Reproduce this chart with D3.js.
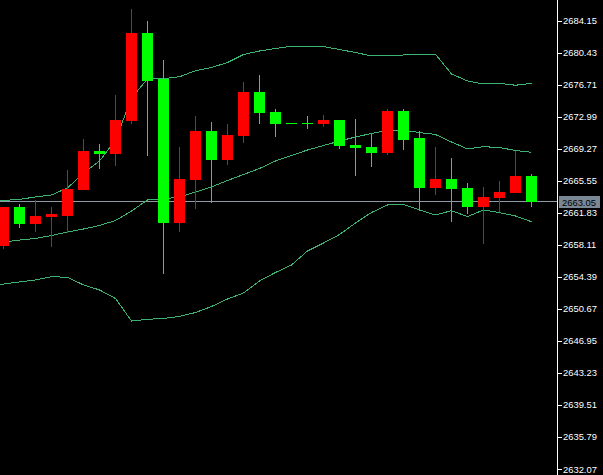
<!DOCTYPE html>
<html>
<head>
<meta charset="utf-8">
<script src="https://cdn.jsdelivr.net/npm/d3@7"></script>
<style>
  html, body { margin: 0; padding: 0; background: #000; }
  svg { display: block; }
</style>
</head>
<body>
<svg id="chart"></svg>
<script>
// bars, oldest first
const opens  = [2657.98, 2662.51, 2660.57, 2661.35, 2661.50, 2664.48, 2669.01, 2668.70, 2672.53, 2682.72,
                2677.34, 2660.68, 2665.68, 2671.34, 2667.97, 2670.79, 2675.86, 2673.54, 2672.23, 2672.23,
                2672.18, 2672.61, 2669.71, 2669.48, 2668.78, 2673.66, 2670.52, 2664.75, 2665.76, 2664.72,
                2662.54, 2663.59, 2664.17, 2666.11];
const highs  = [2662.51, 2662.86, 2663.32, 2662.51, 2666.80, 2670.41, 2669.83, 2675.52, 2685.51, 2684.12,
                2679.59, 2669.48, 2673.08, 2672.38, 2672.15, 2677.03, 2677.84, 2673.89, 2672.23, 2673.08,
                2673.19, 2672.61, 2672.73, 2670.99, 2673.89, 2673.89, 2671.34, 2669.51, 2668.23, 2665.30,
                2664.83, 2665.53, 2669.05, 2666.34];
const lows   = [2657.63, 2660.10, 2659.64, 2657.90, 2659.52, 2664.48, 2666.92, 2667.27, 2672.18, 2668.47,
                2654.76, 2659.64, 2662.31, 2662.97, 2667.39, 2669.98, 2672.18, 2670.67, 2672.23, 2671.57,
                2671.80, 2669.28, 2666.14, 2667.19, 2668.55, 2669.13, 2662.28, 2663.94, 2660.80, 2661.70,
                2658.24, 2661.93, 2664.17, 2662.54];
const closes = [2662.51, 2660.57, 2661.46, 2661.69, 2664.60, 2669.01, 2668.70, 2672.61, 2682.72, 2677.18,
                2660.68, 2665.76, 2671.34, 2667.97, 2670.87, 2675.86, 2673.46, 2672.18, 2672.23, 2672.23,
                2672.61, 2669.63, 2669.40, 2668.78, 2673.66, 2670.29, 2664.75, 2665.76, 2664.60, 2662.54,
                2663.67, 2664.25, 2666.11, 2663.05];

// bollinger bands, first value belongs to the bar just left of the window
const bbUpper  = [2663.15, 2663.26, 2663.40, 2663.67, 2663.90, 2664.72, 2666.46, 2667.85, 2670.29, 2675.17,
                  2677.38, 2677.41, 2677.64, 2678.34, 2678.71, 2679.29, 2680.22, 2680.63, 2680.92, 2681.18,
                  2681.13, 2681.15, 2680.80, 2680.46, 2680.05, 2680.05, 2680.17, 2680.28, 2680.25, 2677.96,
                  2677.15, 2676.80, 2676.88, 2676.65, 2676.88];
const bbMiddle = [2658.27, 2658.44, 2658.67, 2658.85, 2659.20, 2659.60, 2659.95, 2660.36, 2660.94, 2662.04,
                  2663.32, 2663.44, 2663.67, 2664.25, 2664.83, 2665.59, 2666.28, 2666.98, 2667.85, 2668.49,
                  2669.13, 2669.65, 2670.17, 2670.64, 2671.05, 2671.42, 2671.40, 2671.16, 2670.93, 2670.06,
                  2669.25, 2669.51, 2669.42, 2669.07, 2668.86];
const bbLower  = [2653.45, 2653.56, 2653.80, 2654.03, 2654.41, 2654.34, 2653.45, 2652.87, 2651.88, 2649.26,
                  2649.46, 2649.56, 2649.79, 2650.25, 2650.95, 2651.82, 2652.52, 2653.91, 2654.90, 2655.77,
                  2657.40, 2658.33, 2659.31, 2660.65, 2661.87, 2662.74, 2662.80, 2662.16, 2661.58, 2662.08,
                  2661.40, 2662.16, 2661.85, 2661.46, 2660.80];

const priceTicks = [2684.15, 2680.43, 2676.71, 2672.99, 2669.27, 2665.55, 2661.83, 2658.11,
                    2654.39, 2650.67, 2646.95, 2643.23, 2639.51, 2635.79, 2632.07];
const bidPrice = 2663.05;

const width = 603, height = 475;
const plotRight = 557;
const upColor = '#ff0000', downColor = '#00ff00', bandColor = '#3cb371';

const svg = d3.select('#chart')
    .attr('width', width)
    .attr('height', height)
    .style('background', '#000')
    .attr('shape-rendering', 'crispEdges');

const x = d3.scaleLinear().domain([0, opens.length - 1]).range([3.5, 531.5]);
const y = d3.scaleLinear().domain([2632.07, 2684.15]).range([469, 20.7]);
const bodyW = 11;

svg.append('clipPath').attr('id', 'plot')
    .append('rect').attr('x', 0).attr('y', 0).attr('width', plotRight).attr('height', height);

const plot = svg.append('g').attr('clip-path', 'url(#plot)');

// bid line
plot.append('line')
    .attr('x1', 0).attr('x2', plotRight)
    .attr('y1', Math.round(y(bidPrice)) - 0.5).attr('y2', Math.round(y(bidPrice)) - 0.5)
    .attr('stroke', '#8e9aa6').attr('stroke-width', 1);

// bands
const bandLine = d3.line().x((d, i) => x(i - 1)).y(d => y(d));
[bbUpper, bbMiddle, bbLower].forEach(band => {
    plot.append('path')
        .datum(band)
        .attr('d', bandLine)
        .attr('fill', 'none')
        .attr('stroke', bandColor)
        .attr('stroke-width', 1);
});

// candles
const bars = d3.range(opens.length).map(i => ({
    i: i, o: opens[i], h: highs[i], l: lows[i], c: closes[i]
}));

const candle = plot.selectAll('g.candle')
    .data(bars)
    .join('g')
    .attr('class', 'candle');

candle.append('line')
    .attr('x1', d => Math.floor(x(d.i)) + 0.5)
    .attr('x2', d => Math.floor(x(d.i)) + 0.5)
    .attr('y1', d => y(d.h))
    .attr('y2', d => y(d.l))
    .attr('stroke', d => d.c > d.o ? upColor : downColor)
    .attr('stroke-width', 1);

candle.append('rect')
    .attr('x', d => x(d.i) - bodyW / 2)
    .attr('width', bodyW)
    .attr('y', d => y(Math.max(d.o, d.c)))
    .attr('height', d => Math.max(1, Math.abs(y(d.o) - y(d.c))))
    .attr('fill', d => d.c > d.o ? upColor : downColor);

// price axis
svg.append('line')
    .attr('x1', plotRight + 0.5).attr('x2', plotRight + 0.5)
    .attr('y1', 0).attr('y2', height)
    .attr('stroke', '#fff');

const yAxis = svg.append('g')
    .attr('transform', `translate(${plotRight}, 0)`)
    .call(d3.axisRight(y).tickValues(priceTicks).tickFormat(d3.format('.2f')).tickSize(5).tickPadding(1));

yAxis.select('.domain').remove();
yAxis.selectAll('line').attr('stroke', '#fff');
yAxis.selectAll('text')
    .attr('fill', '#fff')
    .style('font-family', '"Liberation Sans", Arial, sans-serif')
    .style('font-size', '9.4px');

// bid label
const by = y(bidPrice);
svg.append('rect')
    .attr('x', 559).attr('y', by - 6)
    .attr('width', 41).attr('height', 12)
    .attr('fill', '#7a8794');
svg.append('text')
    .attr('x', 562).attr('y', by)
    .attr('dy', '0.34em')
    .attr('fill', '#000')
    .style('font-family', '"Liberation Sans", Arial, sans-serif')
    .style('font-size', '9.4px')
    .text(d3.format('.2f')(bidPrice));
</script>
</body>
</html>
